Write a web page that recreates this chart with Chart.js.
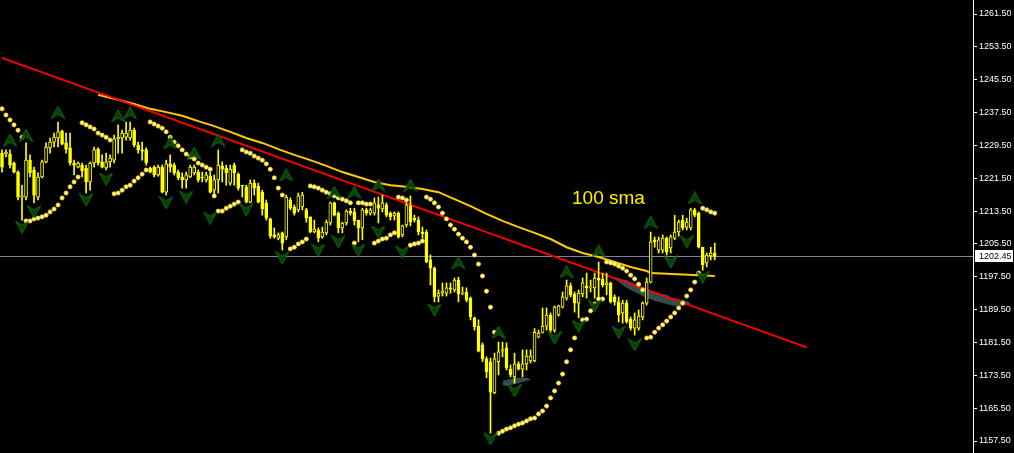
<!DOCTYPE html>
<html>
<head>
<meta charset="utf-8">
<script src="https://cdn.jsdelivr.net/npm/chart.js@4.4.0/dist/chart.umd.min.js"></script>
<style>
html, body { margin: 0; padding: 0; background: #000; overflow: hidden; }
canvas { display: block; }
</style>
</head>
<body>
<canvas id="chart" width="1014" height="453"></canvas>
<script>
// bar slots on the time axis (only the first 179 hold candles)
const nBars = 243;
const bars = Array.from({ length: nBars }, (_, i) => String(i + 1));

// price axis tick labels
const yTicks = [1157.5, 1165.5, 1173.5, 1181.5, 1189.5, 1197.5, 1205.5, 1213.5, 1221.5, 1229.5, 1237.5, 1245.5, 1253.5, 1261.5];
const lastPrice = 1202.45;

// OHLC candles
const open = [
  1227.6, 1227.4, 1227.4, 1225.2, 1223.0, 1216.9, 1216.9, 1225.9, 1223.5, 1216.9,
  1221.8, 1225.5, 1228.9, 1230.3, 1231.3, 1233.0, 1230.1, 1228.9, 1225.2, 1224.2,
  1224.7, 1224.0, 1220.6, 1225.2, 1228.6, 1225.5, 1224.0, 1225.5, 1225.9, 1231.1,
  1231.3, 1231.5, 1231.3, 1233.2, 1229.6, 1228.4, 1228.4, 1224.0, 1224.2, 1222.3,
  1224.2, 1218.1, 1225.0, 1224.7, 1223.0, 1221.8, 1221.1, 1221.8, 1222.8, 1223.0,
  1221.8, 1221.1, 1222.0, 1218.6, 1221.1, 1224.5, 1224.0, 1220.3, 1224.7, 1222.5,
  1219.8, 1219.4, 1215.7, 1220.3, 1219.6, 1218.1, 1215.5, 1211.6, 1207.7, 1206.9,
  1208.2, 1207.2, 1216.2, 1214.5, 1213.8, 1214.5, 1213.8, 1212.1, 1208.4, 1208.9,
  1207.2, 1208.2, 1210.6, 1215.5, 1213.0, 1209.4, 1210.6, 1213.5, 1213.3, 1211.3,
  1209.4, 1213.8, 1213.0, 1213.0, 1215.0, 1214.0, 1215.0, 1213.0, 1212.3, 1213.0,
  1207.7, 1210.1, 1214.7, 1211.8, 1211.3, 1208.4, 1208.4, 1201.6, 1199.6, 1192.8,
  1193.5, 1193.5, 1194.8, 1194.3, 1196.7, 1193.5, 1193.8, 1192.3, 1187.5, 1185.5,
  1180.9, 1177.5, 1176.8, 1169.2, 1176.8, 1179.4, 1180.2, 1175.0, 1173.1, 1176.3,
  1175.0, 1176.3, 1177.0, 1177.0, 1182.8, 1183.8, 1185.5, 1188.2, 1184.5, 1188.2,
  1190.1, 1192.3, 1195.3, 1193.3, 1191.1, 1193.3, 1195.3, 1194.8, 1194.8, 1197.2,
  1196.9, 1195.5, 1196.0, 1192.6, 1191.4, 1188.7, 1191.1, 1187.2, 1185.0, 1185.0,
  1187.7, 1191.1, 1196.2, 1206.5, 1204.0, 1204.0, 1206.9, 1204.5, 1206.9, 1208.4,
  1211.3, 1209.6, 1209.4, 1213.8, 1213.0, 1204.7, 1200.9, 1202.6, 1203.3
];
const high = [
  1228.4, 1228.4, 1228.4, 1225.5, 1223.3, 1219.8, 1230.1, 1227.2, 1224.2, 1222.8,
  1225.9, 1230.1, 1231.3, 1232.5, 1235.2, 1233.2, 1232.5, 1232.5, 1225.9, 1225.5,
  1225.2, 1224.7, 1225.5, 1229.1, 1228.9, 1227.2, 1227.6, 1227.2, 1232.0, 1234.5,
  1233.2, 1235.2, 1235.2, 1233.7, 1230.3, 1230.3, 1228.9, 1224.2, 1224.5, 1224.7,
  1224.7, 1225.9, 1227.2, 1225.2, 1223.5, 1222.8, 1223.0, 1224.7, 1224.7, 1223.5,
  1223.0, 1223.0, 1223.0, 1222.3, 1228.4, 1225.5, 1224.7, 1224.7, 1225.2, 1222.8,
  1219.8, 1219.8, 1221.1, 1221.1, 1220.3, 1218.6, 1216.2, 1211.8, 1209.4, 1208.2,
  1208.4, 1217.4, 1216.7, 1215.0, 1217.9, 1218.1, 1214.2, 1212.1, 1211.3, 1209.4,
  1209.6, 1211.3, 1215.7, 1215.7, 1213.3, 1210.8, 1213.8, 1214.2, 1214.2, 1211.3,
  1214.2, 1214.2, 1214.2, 1216.7, 1216.9, 1217.4, 1215.5, 1213.3, 1213.3, 1213.3,
  1210.1, 1215.5, 1217.2, 1212.5, 1212.1, 1209.6, 1208.9, 1202.8, 1199.9, 1194.3,
  1196.0, 1196.0, 1196.0, 1197.2, 1197.4, 1195.0, 1194.8, 1192.6, 1187.7, 1187.0,
  1181.4, 1178.0, 1177.7, 1178.9, 1181.6, 1181.6, 1181.4, 1176.0, 1178.9, 1176.8,
  1179.7, 1179.7, 1179.7, 1184.9, 1184.5, 1189.9, 1189.9, 1188.7, 1190.4, 1190.6,
  1193.8, 1196.7, 1196.0, 1193.8, 1194.3, 1197.2, 1198.4, 1196.7, 1198.4, 1201.1,
  1198.4, 1198.4, 1196.2, 1193.1, 1192.6, 1191.8, 1191.8, 1187.7, 1188.7, 1189.4,
  1191.4, 1197.2, 1208.4, 1207.2, 1207.2, 1207.7, 1207.2, 1207.7, 1212.5, 1211.3,
  1212.5, 1211.8, 1214.2, 1214.2, 1213.3, 1204.7, 1203.3, 1204.7, 1205.7
];
const low = [
  1223.0, 1226.7, 1224.0, 1222.8, 1216.2, 1211.3, 1216.2, 1221.8, 1215.5, 1216.2,
  1221.6, 1225.2, 1227.6, 1229.1, 1229.1, 1229.6, 1227.6, 1224.7, 1222.3, 1224.0,
  1221.8, 1217.9, 1218.6, 1224.2, 1224.7, 1224.0, 1223.5, 1224.2, 1225.2, 1227.6,
  1227.6, 1230.8, 1230.8, 1229.1, 1227.6, 1225.9, 1224.7, 1222.8, 1221.8, 1222.0,
  1217.9, 1217.4, 1223.0, 1222.3, 1221.1, 1219.1, 1219.1, 1221.6, 1222.3, 1220.6,
  1220.6, 1220.6, 1217.9, 1217.4, 1217.9, 1220.6, 1219.8, 1219.8, 1219.8, 1218.6,
  1216.9, 1215.5, 1215.5, 1217.4, 1215.5, 1212.5, 1211.3, 1206.9, 1206.9, 1206.5,
  1204.0, 1206.5, 1213.8, 1212.5, 1213.3, 1213.8, 1210.8, 1208.2, 1208.2, 1206.0,
  1206.9, 1207.7, 1210.1, 1212.3, 1208.2, 1208.2, 1210.1, 1212.5, 1210.1, 1206.0,
  1206.5, 1212.5, 1212.5, 1212.5, 1210.6, 1213.3, 1212.1, 1211.3, 1211.3, 1206.9,
  1207.2, 1209.6, 1209.9, 1210.8, 1207.7, 1206.9, 1200.9, 1195.5, 1191.4, 1191.4,
  1192.8, 1192.8, 1193.5, 1193.8, 1191.4, 1193.1, 1191.4, 1187.0, 1184.5, 1179.2,
  1176.8, 1172.9, 1159.4, 1169.0, 1173.6, 1178.0, 1174.8, 1173.1, 1171.6, 1174.8,
  1173.1, 1174.8, 1176.5, 1176.8, 1182.6, 1183.8, 1184.5, 1184.0, 1184.0, 1187.9,
  1189.9, 1191.8, 1192.6, 1188.9, 1187.5, 1192.6, 1192.3, 1193.8, 1192.3, 1191.8,
  1195.0, 1193.1, 1191.1, 1190.6, 1186.5, 1186.2, 1186.2, 1184.5, 1183.3, 1184.5,
  1187.0, 1190.6, 1196.0, 1204.7, 1203.3, 1203.3, 1202.8, 1203.3, 1206.5, 1207.4,
  1208.9, 1208.9, 1208.9, 1212.1, 1204.5, 1199.1, 1199.9, 1201.6, 1201.6
];
const close = [
  1224.2, 1227.9, 1224.7, 1223.0, 1216.9, 1217.2, 1225.9, 1222.8, 1217.4, 1221.8,
  1225.5, 1229.1, 1230.3, 1231.5, 1232.8, 1229.8, 1228.6, 1225.2, 1224.7, 1225.2,
  1223.3, 1220.6, 1225.2, 1228.4, 1225.2, 1224.2, 1225.5, 1226.4, 1231.1, 1231.5,
  1232.5, 1232.5, 1233.2, 1229.6, 1228.4, 1228.1, 1225.2, 1223.0, 1222.3, 1224.2,
  1218.1, 1225.0, 1224.2, 1222.8, 1221.6, 1221.1, 1222.3, 1224.2, 1224.2, 1221.1,
  1221.6, 1222.3, 1218.1, 1221.1, 1224.7, 1223.7, 1222.8, 1223.7, 1222.8, 1219.1,
  1219.6, 1215.7, 1220.3, 1219.1, 1215.7, 1214.0, 1211.8, 1207.4, 1207.2, 1207.7,
  1205.7, 1216.9, 1214.2, 1213.0, 1217.2, 1217.4, 1211.8, 1208.4, 1209.1, 1206.9,
  1208.4, 1210.8, 1215.5, 1212.5, 1209.4, 1210.6, 1213.5, 1213.0, 1211.1, 1209.4,
  1213.8, 1213.0, 1213.8, 1215.5, 1214.2, 1215.5, 1212.5, 1212.1, 1213.0, 1207.2,
  1209.9, 1215.0, 1210.8, 1211.3, 1208.4, 1208.0, 1201.1, 1199.6, 1192.6, 1193.5,
  1194.0, 1194.8, 1194.5, 1196.7, 1193.3, 1193.8, 1191.8, 1187.7, 1185.3, 1179.4,
  1177.5, 1174.3, 1169.4, 1177.5, 1179.2, 1179.7, 1175.3, 1173.6, 1176.3, 1175.0,
  1176.3, 1178.2, 1178.2, 1184.0, 1183.8, 1185.5, 1188.2, 1184.5, 1190.1, 1190.4,
  1192.6, 1195.3, 1193.1, 1191.1, 1193.5, 1196.0, 1194.8, 1195.0, 1197.2, 1196.7,
  1195.5, 1196.0, 1191.4, 1191.4, 1188.2, 1191.1, 1186.5, 1185.0, 1187.0, 1187.9,
  1191.1, 1196.2, 1206.0, 1206.0, 1206.5, 1206.9, 1203.5, 1207.2, 1208.4, 1210.8,
  1209.4, 1210.8, 1213.8, 1212.5, 1204.7, 1200.4, 1202.8, 1203.3, 1202.45
];

// parabolic SAR, one dot per candle
const sar = [
  1238.4, 1236.9, 1235.7, 1234.5, 1233.2, 1231.5,
  1211.1, 1211.1, 1211.6, 1211.8, 1212.1, 1212.5, 1213.3, 1214.0, 1215.0, 1216.7, 1217.9, 1219.4, 1220.6, 1221.8,
  1235.0, 1234.5, 1234.0, 1233.5, 1232.5, 1232.0, 1231.5, 1230.8,
  1217.7, 1217.9, 1218.6, 1219.4, 1219.8, 1220.8, 1221.6, 1222.5, 1223.5,
  1235.2, 1234.7, 1234.2, 1233.7, 1232.8, 1231.5, 1230.3, 1229.4, 1228.4, 1227.4, 1226.7, 1226.2, 1225.2, 1224.7, 1224.2, 1223.7,
  1217.2,
  1213.5, 1213.5, 1214.2, 1214.7, 1215.2, 1215.7,
  1228.4, 1227.9, 1227.6, 1226.9, 1226.4, 1225.9, 1225.0, 1223.7, 1221.6, 1219.1, 1217.4,
  null,
  1204.3, 1204.7, 1205.5, 1206.0, 1206.7,
  1219.6, 1219.4, 1219.1, 1218.6, 1218.1, 1217.7, 1217.2, 1216.7, 1216.4, 1216.0, 1215.5,
  1205.7,
  1215.5, 1215.5, 1215.2, 1215.2,
  1205.7, 1206.2, 1206.7, 1206.9, 1207.7, 1208.2,
  1216.9, 1216.7, 1216.2,
  1205.2, 1205.5, 1205.7, 1206.2,
  1216.9, 1216.4, 1215.5, 1214.5, 1213.0, 1211.6, 1210.1, 1209.1, 1207.9, 1206.9, 1206.0, 1204.7, 1202.8, 1200.6, 1197.7, 1194.0, 1190.1, 1184.0,
  1159.4, 1159.9, 1160.4, 1160.7, 1161.2, 1161.6, 1161.9, 1162.4, 1162.9, 1163.1, 1164.1, 1164.8, 1166.0, 1168.0,
  1169.7, 1171.6, 1173.8, 1176.8, 1179.7, 1182.6, 1185.3, 1187.0, 1187.2, 1189.2, 1190.9, 1192.1, 1192.1,
  1201.1, 1200.9, 1200.6, 1200.1, 1199.6, 1198.9, 1197.9, 1197.0, 1195.7, 1194.3,
  1182.6, 1182.8, 1184.0, 1185.0, 1185.8, 1186.7, 1187.7, 1188.7, 1189.9, 1191.1, 1192.8, 1194.3, 1196.2, 1198.4,
  1214.2, 1213.8, 1213.3, 1213.0
];

// 100 sma (read at every few bars)
const smaBar = [24, 29, 33, 37, 41, 45, 49, 53, 57, 61, 65, 69, 73, 77, 81, 85, 89, 93, 97, 101, 105, 109, 113, 117, 121, 125, 129, 133, 137, 141, 145, 149, 153, 157, 161, 162, 178];
const smaVal = [1241.8, 1240.6, 1239.6, 1238.4, 1237.6, 1236.7, 1235.4, 1234.2, 1232.8, 1231.3, 1230.1, 1228.6, 1227.2, 1225.9, 1224.5, 1223.0, 1221.8, 1220.6, 1219.8, 1219.4, 1218.9, 1218.1, 1216.4, 1214.7, 1212.8, 1211.1, 1209.6, 1208.2, 1206.7, 1204.7, 1203.3, 1202.3, 1201.1, 1199.9, 1198.9, 1198.4, 1197.7];

// red trend line
const trendBar = [0, 201];
const trendVal = [1250.8, 1180.3];

// grey cloud patches
const cloudBar = [125, 126, 127, 128, 129, 130, 131, 132,
  153, 154, 155, 156, 157, 158, 159, 160, 161, 162, 163, 164, 165, 166, 167, 168, 169, 170, 171, 172];
const cloudTop = [1172.1, 1172.4, 1172.6, 1172.9, 1172.9, 1172.9, 1172.9, 1172.6,
  1197.4, 1197.2, 1196.9, 1196.7, 1196.2, 1195.8, 1195.5, 1195.0, 1194.5, 1194.3, 1193.8, 1193.5, 1193.3, 1193.1, 1192.6, 1192.3, 1192.1, 1191.8, 1191.6, 1191.1];
const cloudBot = [1171.1, 1170.9, 1171.1, 1171.4, 1171.6, 1171.9, 1172.1, 1172.4,
  1196.9, 1196.2, 1195.5, 1194.8, 1194.3, 1193.8, 1193.3, 1192.8, 1192.3, 1192.1, 1191.6, 1191.4, 1191.1, 1190.9, 1190.6, 1190.4, 1190.4, 1190.4, 1190.6, 1190.9];

// fractals
const fracUpBar = [2, 6, 14, 29, 32, 42, 48, 54, 71, 83, 88, 94, 102, 114, 124, 141, 149, 162, 173];
const fracUpVal = [1230.8, 1232.0, 1237.6, 1236.7, 1237.4, 1230.1, 1227.6, 1230.8, 1222.3, 1218.1, 1218.1, 1219.8, 1219.8, 1200.9, 1184.0, 1198.7, 1203.8, 1210.8, 1216.7];
const fracDnBar = [5, 8, 21, 26, 41, 46, 52, 61, 70, 79, 84, 89, 94, 100, 108, 122, 128, 138, 144, 148, 154, 158, 167, 171, 175];
const fracDnVal = [1209.6, 1213.3, 1216.2, 1221.3, 1215.5, 1216.9, 1211.8, 1213.8, 1202.1, 1204.0, 1206.0, 1204.0, 1208.4, 1203.5, 1189.4, 1158.0, 1169.7, 1182.6, 1185.5, 1190.4, 1184.0, 1180.9, 1201.1, 1206.0, 1197.4];

const YELLOW = '#ffff00';

function spread(idx, vals) {
  const out = new Array(nBars).fill(null);
  idx.forEach((b, k) => { out[b] = vals[k]; });
  return out;
}

function arrowImg(up) {
  const c = document.createElement('canvas');
  c.width = 14; c.height = 13;
  const g = c.getContext('2d');
  g.beginPath();
  if (up) {
    g.moveTo(7, 0.5); g.lineTo(13.5, 12.5); g.lineTo(7, 8.5); g.lineTo(0.5, 12.5);
  } else {
    g.moveTo(0.5, 0.5); g.lineTo(7, 4.5); g.lineTo(13.5, 0.5); g.lineTo(7, 12.5);
  }
  g.closePath();
  g.fillStyle = '#083f08';
  g.fill();
  g.strokeStyle = '#166e16';
  g.lineWidth = 1;
  g.stroke();
  return c;
}

const wicks = high.map((h, i) => [low[i], h]);
const bodies = open.map((o, i) => [o, close[i]]);
const bodyFill = open.map((o, i) => close[i] >= o ? '#000000' : YELLOW);

const overlay = {
  id: 'overlay',
  beforeDatasetsDraw(chart) {
    const { ctx, chartArea, scales } = chart;
    const y = Math.round(scales.y.getPixelForValue(lastPrice)) + 0.5;
    ctx.save();
    ctx.strokeStyle = '#778899';
    ctx.lineWidth = 1;
    ctx.beginPath();
    ctx.moveTo(chartArea.left, y);
    ctx.lineTo(chartArea.right, y);
    ctx.stroke();
    ctx.restore();
  },
  afterDraw(chart) {
    const { ctx, chartArea, scales } = chart;
    const y = scales.y.getPixelForValue(lastPrice);
    ctx.save();
    ctx.fillStyle = '#ffffff';
    ctx.fillRect(chartArea.right + 2, Math.round(y) - 6, 38, 12);
    ctx.fillStyle = '#000000';
    ctx.font = '9px "Liberation Sans", Arial, sans-serif';
    ctx.textBaseline = 'middle';
    ctx.fillText(lastPrice.toFixed(2), chartArea.right + 6, Math.round(y) + 0.5);
    ctx.fillStyle = '#ffee00';
    ctx.font = '19px "Liberation Sans", Arial, sans-serif';
    ctx.textBaseline = 'alphabetic';
    ctx.fillText('100 sma', 572, 204);
    ctx.restore();
  }
};

new Chart(document.getElementById('chart'), {
  type: 'bar',
  data: {
    labels: bars,
    datasets: [
      { type: 'line', data: spread(cloudBar, cloudTop), borderWidth: 0, pointRadius: 0, fill: '+1', backgroundColor: 'rgb(47,79,79)', order: 10 },
      { type: 'line', data: spread(cloudBar, cloudBot), borderWidth: 0, pointRadius: 0, fill: false, order: 10 },
      { type: 'line', data: spread(smaBar, smaVal), spanGaps: true, borderColor: 'rgb(255,204,0)', borderWidth: 2, pointRadius: 0, order: 8 },
      { type: 'line', data: spread(trendBar, trendVal), spanGaps: true, borderColor: '#ff0000', borderWidth: 2, pointRadius: 0, order: 7 },
      { type: 'bar', data: wicks, grouped: false, barThickness: 1, backgroundColor: YELLOW, order: 6 },
      { type: 'bar', data: bodies, grouped: false, barThickness: 3, backgroundColor: bodyFill, borderColor: YELLOW, borderWidth: 1, borderSkipped: false, order: 5 },
      { type: 'line', data: sar, showLine: false, pointRadius: 2, pointBackgroundColor: '#ffffc8', pointBorderColor: '#ffd000', pointBorderWidth: 1, order: 4 },
      { type: 'line', data: spread(fracUpBar, fracUpVal), showLine: false, pointStyle: arrowImg(true), pointRadius: 6, order: 3 },
      { type: 'line', data: spread(fracDnBar, fracDnVal), showLine: false, pointStyle: arrowImg(false), pointRadius: 6, order: 3 }
    ]
  },
  options: {
    responsive: false,
    animation: false,
    events: [],
    layout: { padding: 0, autoPadding: false },
    plugins: { legend: { display: false }, tooltip: { enabled: false } },
    scales: {
      x: { display: false, offset: true, grid: { display: false } },
      y: {
        position: 'right',
        min: 1154.58,
        max: 1264.91,
        afterFit: (s) => { s.width = 41; s.paddingTop = 0; s.paddingBottom = 0; },
        afterBuildTicks: (s) => { s.ticks = yTicks.map(v => ({ value: v })); },
        border: { color: '#ffffff', width: 1 },
        grid: { drawOnChartArea: false, color: '#ffffff', tickLength: 4 },
        ticks: {
          color: '#ffffff',
          padding: 2,
          font: { size: 9, family: 'Liberation Sans' },
          callback: (v) => Number(v).toFixed(2)
        }
      }
    }
  },
  plugins: [overlay]
});
</script>
</body>
</html>
